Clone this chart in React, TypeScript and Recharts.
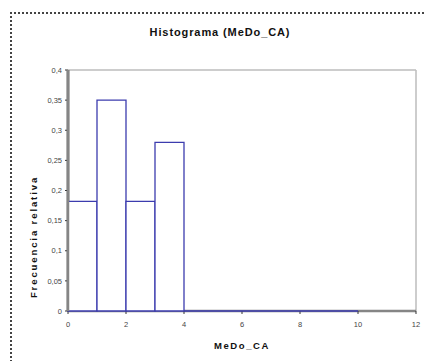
import React from "react";
import {
  BarChart,
  Bar,
  XAxis,
  YAxis,
  ReferenceLine,
} from "recharts";

// bins of width 1, from 0 to 12 (last two bins are empty / not drawn)
const binStarts = [0, 1, 2, 3, 4, 5, 6, 7, 8, 9, 10, 11];
const relFreq: (number | null)[] = [0.182, 0.35, 0.182, 0.28, 0, 0, 0, 0, 0, 0, null, null];
const xTicks = [0, 2, 4, 6, 8, 10, 12];
const yTicks = [0, 0.05, 0.1, 0.15, 0.2, 0.25, 0.3, 0.35, 0.4];

const chartData = binStarts.map((x0, i) => ({
  bin: `${x0}-${x0 + 1}`,
  x0,
  freq: relFreq[i],
}));

const FONT = "'Liberation Sans', Arial, sans-serif";
const BAR_COLOR = "#3c3cae";
const AXIS_COLOR = "#858585";

// outline-only bar; drawn as a path so zero-height bins still show
const HistBar = (props: any) => {
  const { x, y, width, height, payload } = props;
  if (payload == null || payload.freq == null) return null;
  const h = height || 0;
  return (
    <path
      d={`M${x},${y + h} V${y} H${x + width} V${y + h} Z`}
      fill="#fff"
      stroke={BAR_COLOR}
      strokeWidth={1.3}
    />
  );
};

const fmt = (v: number) => String(v).replace(".", ",");

// axis titles (x title under the axis, y title rotated at the left)
const AxisTitles = (p: any) => {
  const vb = p.viewBox || {};
  return (
    <g fontFamily={FONT} fontWeight="bold" fontSize={9.5} fill="#111">
      <text x={vb.x + vb.width / 2} y={349} textAnchor="middle" letterSpacing={1.6}>
        MeDo_CA
      </text>
      <text
        x={37}
        y={237}
        transform="rotate(-90 37 237)"
        textAnchor="middle"
        letterSpacing={1.9}
      >
        Frecuencia relativa
      </text>
    </g>
  );
};

const tickStyle = { fontSize: 7.5, fill: "#444", fontFamily: FONT };

const App: React.FC = () => {
  return (
    <div
      style={{
        position: "absolute",
        left: 0,
        top: 0,
        width: 425,
        height: 361,
        background: "#fff",
        overflow: "hidden",
      }}
    >
      <div style={{ position: "absolute", left: 0, top: 0 }}>
        <BarChart
          width={425}
          height={361}
          data={chartData}
          margin={{ top: 70, right: 9, left: 0, bottom: 0 }}
          barCategoryGap={0}
          barGap={0}
        >
          <XAxis
            xAxisId="bins"
            dataKey="bin"
            type="category"
            orientation="top"
            height={0}
            hide
          />
          <XAxis
            xAxisId="num"
            dataKey="x0"
            type="number"
            domain={[0, 12]}
            ticks={xTicks}
            height={50}
            axisLine={{ stroke: AXIS_COLOR, strokeWidth: 2.5 }}
            tickLine={{ stroke: "#333" }}
            tickSize={3}
            tickMargin={8}
            tick={tickStyle}
            label={{ content: AxisTitles }}
          />
          <YAxis
            type="number"
            domain={[0, 0.4]}
            ticks={yTicks}
            width={68}
            tickFormatter={fmt}
            axisLine={{ stroke: AXIS_COLOR, strokeWidth: 3 }}
            tickLine={{ stroke: "#333" }}
            tickSize={3}
            tickMargin={3}
            tick={tickStyle}
          />
          <ReferenceLine xAxisId="num" y={0.4} stroke="#bdbdbd" strokeWidth={1.5} />
          <ReferenceLine xAxisId="num" x={12} stroke="#bdbdbd" strokeWidth={1.5} />
          <Bar
            xAxisId="bins"
            dataKey="freq"
            shape={HistBar}
            isAnimationActive={false}
            zIndex={900}
          />
          {/* y axis line drawn on top, in case the axis's own line gets hidden */}
          <ReferenceLine
            xAxisId="num"
            x={0}
            stroke={AXIS_COLOR}
            strokeWidth={2.5}
            ifOverflow="visible"
            zIndex={950}
          />
        </BarChart>
      </div>
      <div
        style={{
          position: "absolute",
          left: 10,
          top: 12,
          width: 440,
          height: 380,
          borderLeft: "2px dotted #444",
          borderTop: "2px dotted #444",
          pointerEvents: "none",
        }}
      />
      <div
        style={{
          position: "absolute",
          left: 0,
          width: 440,
          top: 26,
          textAlign: "center",
          fontFamily: FONT,
          fontWeight: "bold",
          fontSize: 11,
          letterSpacing: 0.9,
          color: "#111",
          pointerEvents: "none",
        }}
      >
        Histograma (MeDo_CA)
      </div>
    </div>
  );
};

export default App;
